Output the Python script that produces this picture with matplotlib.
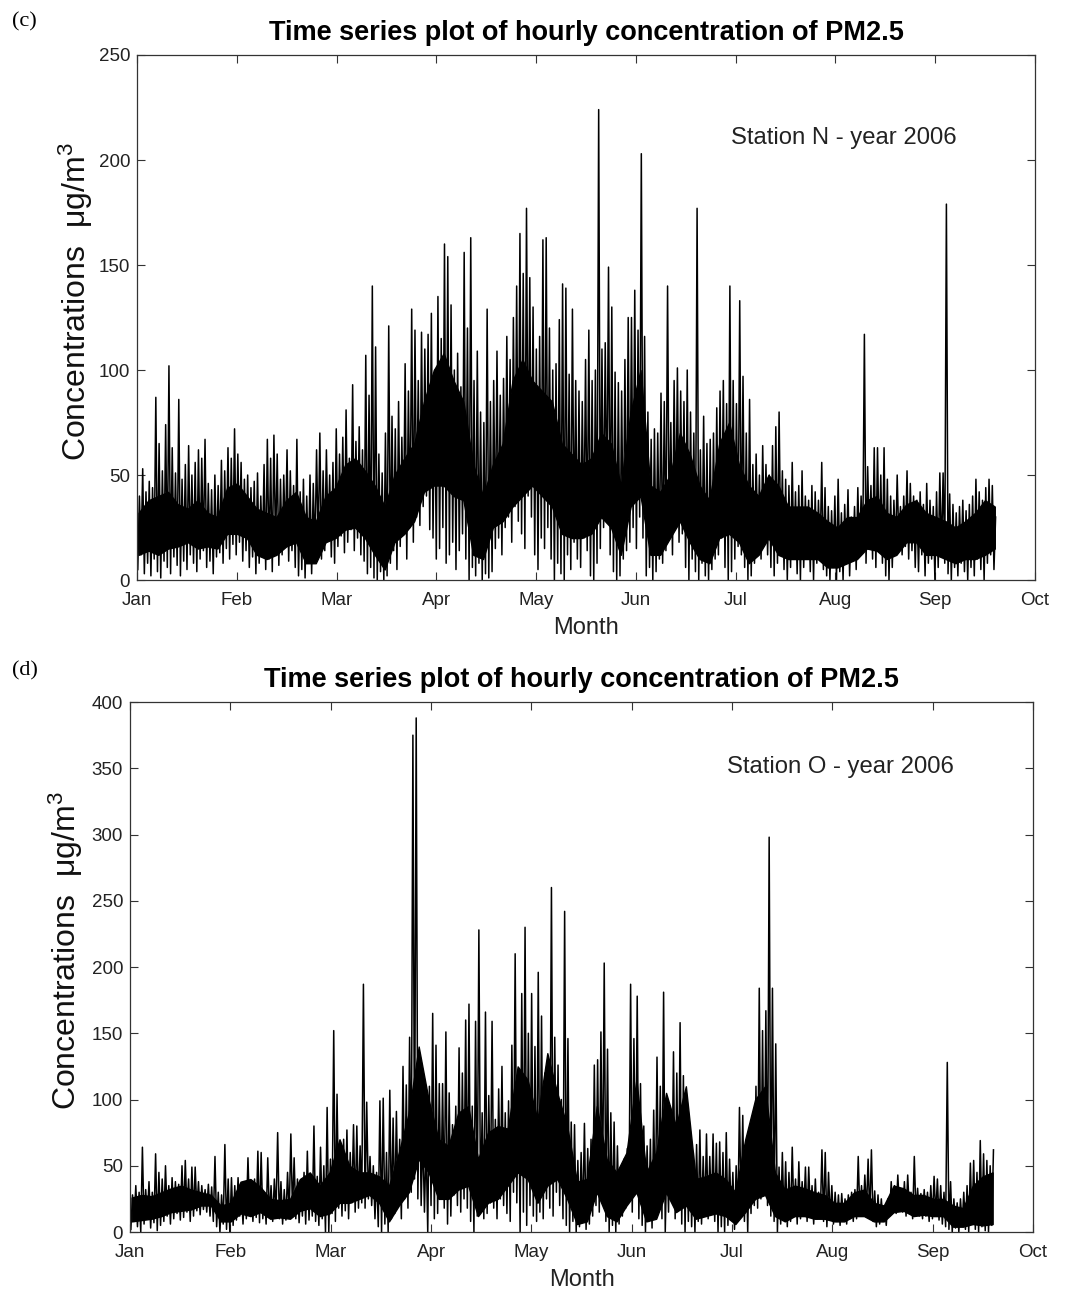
import numpy as np
import matplotlib
matplotlib.use("Agg")
import matplotlib.pyplot as plt

plt.rcParams['font.family'] = ['Liberation Sans', 'DejaVu Sans']
plt.rcParams['mathtext.fontset'] = 'custom'
plt.rcParams['mathtext.rm'] = 'Liberation Sans'
plt.rcParams['mathtext.it'] = 'Liberation Sans:italic'

months = ['Jan', 'Feb', 'Mar', 'Apr', 'May', 'Jun', 'Jul', 'Aug', 'Sep', 'Oct']
month_len = 730 / 24.0   # hourly index, one tick every 730 h

# ---- station N : daily max / min (ug/m3), day 0 = 1 Jan
n_max = [40, 53, 42, 47, 44, 87, 65, 52, 74, 102,
         63, 51, 86, 48, 55, 64, 50, 56, 62, 58,
         67, 46, 43, 50, 45, 57, 52, 63, 58, 72,
         60, 56, 48, 50, 44, 47, 51, 40, 55, 67,
         58, 69, 60, 48, 50, 62, 52, 45, 67, 42,
         48, 40, 50, 46, 62, 70, 52, 62, 50, 56,
         72, 60, 68, 81, 58, 93, 66, 73, 62, 107,
         88, 140, 111, 60, 51, 70, 121, 78, 72, 85,
         68, 103, 90, 129, 119, 95, 118, 110, 117, 127,
         100, 135, 115, 160, 154, 131, 100, 108, 92, 156,
         120, 163, 95, 109, 80, 75, 129, 85, 95, 109,
         88, 96, 116, 105, 125, 140, 165, 146, 177, 144,
         130, 110, 116, 162, 163, 120, 100, 103, 124, 141,
         139, 98, 129, 95, 90, 85, 105, 119, 95, 100,
         224, 110, 113, 149, 130, 99, 94, 90, 105, 125,
         125, 138, 119, 203, 116, 80, 67, 72, 70, 89,
         85, 140, 75, 95, 101, 90, 85, 100, 80, 70,
         177, 62, 78, 65, 67, 70, 82, 90, 95, 84,
         140, 95, 84, 133, 97, 70, 86, 55, 60, 50,
         64, 55, 50, 64, 73, 80, 52, 48, 45, 56,
         42, 45, 52, 40, 38, 45, 42, 38, 56, 44,
         35, 33, 40, 48, 32, 36, 43, 30, 35, 44,
         40, 117, 54, 45, 63, 63, 50, 63, 48, 40,
         38, 50, 35, 40, 52, 46, 40, 38, 42, 36,
         46, 38, 35, 42, 51, 51, 179, 41, 36, 32,
         35, 38, 33, 36, 40, 48, 42, 38, 44, 48, 45, 30]
n_min = [5, 12, 3, 8, 2, 10, 4, 1, 9, 6,
         3, 11, 7, 2, 9, 5, 12, 8, 4, 10,
         14, 6, 9, 3, 11, 13, 8, 15, 10, 17,
         12, 18, 9, 14, 6, 11, 3, 8, 13, 5,
         10, 4, 15, 7, 12, 18, 9, 14, 6, 2,
         5, 1, 8, 3, 12, 16, 10, 14, 20, 11,
         8, 16, 21, 13, 18, 24, 14, 20, 12, 9,
         3, 6, 1, 0, 4, 0, 2, 8, 14, 5,
         16, 22, 10, 25, 18, 30, 26, 35, 40, 24,
         20, 10, 15, 25, 8, 12, 18, 5, 14, 22,
         10, 0, 6, 2, 8, 0, 3, 1, 4, 15,
         20, 12, 25, 30, 18, 35, 28, 22, 15, 40,
         30, 12, 5, 20, 15, 25, 10, 0, 8, 3,
         0, 12, 5, 18, 10, 6, 20, 14, 2, 0,
         8, 15, 25, 30, 12, 4, 0, 2, 10, 14,
         18, 25, 15, 30, 20, 2, 6, 0, 4, 10,
         8, 14, 20, 12, 25, 18, 22, 6, 0, 10,
         4, 0, 8, 2, 0, 5, 10, 12, 20, 6,
         0, 4, 10, 16, 12, 6, 0, 2, 8, 14,
         10, 18, 12, 6, 2, 8, 14, 5, 0, 6,
         10, 3, 0, 6, 12, 4, 0, 8, 12, 5,
         2, 0, 6, 0, 4, 0, 8, 2, 10, 5,
         12, 15, 8, 20, 10, 6, 14, 8, 2, 0,
         6, 14, 18, 12, 16, 10, 14, 6, 4, 12,
         2, 8, 10, 0, 6, 12, 8, 3, 0, 6,
         2, 8, 4, 0, 6, 2, 10, 5, 0, 8, 12, 5]
# dense band of the hourly trace, one value every 3 days
n_core_hi = [32, 38, 40, 42, 36, 34, 38, 32, 30, 44,
             46, 40, 34, 32, 30, 38, 42, 30, 28, 40,
             44, 55, 58, 52, 45, 35, 50, 58, 65, 85,
             100, 108, 95, 85, 55, 40, 55, 65, 95, 105,
             95, 90, 85, 65, 60, 55, 58, 70, 65, 45,
             80, 100, 45, 42, 50, 70, 60, 45, 38, 65,
             75, 55, 45, 40, 50, 45, 35, 35, 35, 32,
             28, 25, 30, 30, 38, 40, 32, 30, 36, 38,
             32, 30, 28, 25, 28, 32, 38, 35]
n_core_lo = [12, 14, 12, 15, 16, 18, 15, 16, 15, 22,
             22, 20, 12, 10, 12, 16, 18, 8, 8, 18,
             20, 24, 25, 20, 12, 5, 18, 22, 28, 42,
             45, 45, 40, 38, 12, 10, 25, 28, 35, 40,
             45, 40, 35, 22, 20, 20, 22, 30, 25, 12,
             35, 40, 12, 12, 20, 28, 18, 10, 8, 20,
             22, 18, 8, 12, 20, 12, 10, 10, 10, 10,
             6, 6, 8, 10, 15, 14, 10, 12, 18, 18,
             12, 12, 10, 8, 10, 10, 12, 15]

# ---- station O
o_max = [28, 35, 30, 64, 32, 38, 30, 59, 45, 40,
         50, 35, 41, 38, 36, 50, 54, 40, 49, 49,
         38, 35, 32, 36, 34, 57, 30, 28, 66, 40,
         41, 35, 41, 30, 38, 56, 32, 40, 61, 60,
         30, 56, 35, 40, 75, 38, 32, 45, 74, 56,
         40, 35, 45, 61, 38, 80, 42, 64, 50, 94,
         55, 152, 104, 61, 70, 77, 60, 81, 80, 65,
         187, 98, 57, 50, 45, 99, 101, 60, 107, 86,
         91, 70, 125, 111, 147, 375, 388, 120, 74, 68,
         110, 165, 141, 112, 112, 151, 105, 81, 95, 139,
         120, 160, 172, 95, 159, 228, 90, 166, 103, 159,
         85, 108, 125, 90, 99, 141, 210, 120, 180, 230,
         150, 180, 140, 196, 163, 120, 110, 260, 147, 126,
         100, 242, 146, 83, 81, 54, 60, 82, 63, 70,
         126, 130, 151, 203, 138, 90, 83, 65, 49, 55,
         63, 187, 146, 178, 112, 80, 65, 70, 92, 132,
         110, 181, 60, 95, 136, 120, 158, 118, 79, 70,
         60, 66, 77, 57, 74, 57, 74, 67, 68, 60,
         75, 55, 45, 50, 94, 88, 62, 70, 85, 110,
         184, 152, 167, 298, 184, 142, 49, 60, 53, 45,
         64, 40, 53, 38, 49, 49, 35, 40, 30, 62,
         60, 45, 35, 30, 28, 29, 25, 28, 30, 32,
         57, 35, 43, 55, 62, 31, 28, 25, 20, 25,
         38, 35, 43, 32, 38, 43, 30, 57, 33, 29,
         32, 30, 35, 42, 40, 35, 30, 128, 38, 25,
         22, 25, 30, 35, 52, 54, 45, 69, 59, 54, 50, 62]
o_min = [2, 8, 4, 0, 6, 10, 3, 7, 1, 5,
         8, 12, 6, 10, 14, 9, 11, 15, 8, 12,
         16, 13, 17, 15, 12, 8, 4, 0, 6, 2,
         0, 5, 9, 12, 6, 10, 14, 8, 11, 7,
         10, 6, 12, 8, 14, 10, 6, 9, 12, 15,
         10, 7, 12, 6, 9, 12, 8, 5, 10, 0,
         0, 14, 8, 18, 12, 16, 10, 22, 15, 18,
         22, 18, 25, 20, 10, 4, 0, 6, 0, 10,
         14, 20, 10, 25, 18, 30, 40, 25, 20, 15,
         0, 20, 10, 14, 25, 18, 6, 12, 28, 20,
         15, 25, 18, 8, 0, 12, 20, 10, 14, 22,
         18, 10, 25, 20, 14, 8, 30, 22, 0, 15,
         5, 20, 12, 8, 15, 10, 25, 18, 12, 30,
         20, 10, 5, 0, 8, 0, 4, 10, 2, 6,
         12, 20, 15, 25, 8, 0, 5, 0, 6, 12,
         18, 25, 15, 30, 10, 5, 0, 8, 3, 12,
         20, 10, 0, 15, 25, 10, 18, 6, 0, 8,
         4, 0, 8, 6, 12, 10, 14, 8, 0, 4,
         0, 5, 10, 2, 12, 18, 8, 0, 14, 20,
         18, 25, 30, 20, 12, 8, 0, 6, 10, 4,
         8, 12, 6, 10, 14, 8, 12, 6, 10, 12,
         8, 4, 10, 6, 8, 5, 9, 6, 10, 8,
         10, 14, 12, 16, 10, 8, 4, 6, 8, 5,
         12, 16, 14, 18, 15, 12, 16, 10, 14, 12,
         10, 12, 8, 10, 12, 9, 6, 4, 2, 0,
         3, 0, 5, 2, 0, 6, 2, 0, 4, 1, 0, 5]
o_core_hi = [26, 28, 27, 30, 33, 35, 32, 30, 28, 20,
             22, 38, 40, 34, 25, 24, 25, 40, 45, 35,
             45, 70, 50, 45, 45, 42, 35, 60, 90, 140,
             100, 70, 65, 90, 95, 55, 75, 80, 78, 125,
             115, 85, 135, 105, 80, 38, 40, 95, 55, 45,
             60, 115, 45, 60, 105, 80, 110, 40, 42, 45,
             40, 30, 70, 100, 110, 45, 32, 35, 33, 30,
             28, 22, 22, 30, 32, 22, 20, 35, 33, 28,
             28, 25, 25, 20, 18, 35, 42, 45]
o_core_lo = [8, 9, 10, 12, 15, 16, 17, 20, 20, 8,
             8, 14, 12, 15, 10, 11, 10, 16, 18, 12,
             14, 22, 22, 25, 28, 22, 8, 20, 30, 55,
             45, 25, 25, 32, 35, 12, 22, 25, 35, 45,
             40, 22, 35, 40, 25, 6, 8, 30, 12, 8,
             20, 30, 8, 10, 30, 15, 20, 10, 12, 14,
             12, 6, 15, 25, 28, 12, 8, 12, 12, 10,
             10, 8, 8, 12, 12, 8, 8, 15, 16, 12,
             13, 12, 12, 4, 4, 6, 5, 6]


def draw_panel(ax, dmax, dmin, core_hi, core_lo, ymax, station, st_y, lab_x):
    days = np.arange(len(dmax))
    # zigzag through the daily low and high
    x = np.empty(2 * len(days))
    y = np.empty(2 * len(days))
    x[0::2] = days + 0.25
    x[1::2] = days + 0.75
    y[0::2] = dmin
    y[1::2] = dmax
    cd = np.arange(len(core_hi)) * 3 + 0.5
    ax.fill_between(cd, core_lo, core_hi, color='black', lw=1.0)
    ax.plot(x, y, color='black', lw=1.1)

    ax.set_xlim(0, 9 * month_len)
    ax.set_ylim(0, ymax)
    ax.set_xticks(np.arange(10) * month_len)
    ax.set_xticklabels(months)
    ax.set_yticks(np.arange(0, ymax + 1, 50))
    ax.tick_params(direction='in', top=True, right=True, length=6, width=0.8,
                   labelsize=13.5, labelcolor='#222222', color='#333333', pad=5)
    ax.tick_params(axis='x', pad=8.5)
    for s in ax.spines.values():
        s.set_color('#333333')
        s.set_linewidth(0.9)

    ax.set_title('Time series plot of hourly concentration of PM2.5',
                 fontsize=19.5, fontweight='bold', pad=11)
    ax.set_xlabel('Month', fontsize=17, color='#222222')
    ax.xaxis.set_label_coords(0.5, -0.07)
    ax.set_ylabel('Concentrations  \u03bcg/m$^{3}$', fontsize=23, color='#111111')
    ax.yaxis.set_label_coords(lab_x, 0.53)
    ax.text(0.661, st_y, station, transform=ax.transAxes, fontsize=17.2,
            ha='left', va='center', color='#222222')


fig = plt.figure(figsize=(10.65, 12.91), dpi=100)
ax1 = fig.add_axes([0.1286, 0.5507, 0.8432, 0.4067])
ax2 = fig.add_axes([0.1221, 0.0457, 0.8479, 0.4105])

draw_panel(ax1, n_max, n_min, n_core_hi, n_core_lo, 250, 'Station N - year 2006', 0.842, -0.047)
draw_panel(ax2, o_max, o_min, o_core_hi, o_core_lo, 400, 'Station O - year 2006', 0.877, -0.050)

fig.text(0.023, 1 - 22 / 1291, '(c)', family='Liberation Serif', fontsize=16,
         ha='center', va='center')
fig.text(0.023, 1 - 671 / 1291, '(d)', family='Liberation Serif', fontsize=16,
         ha='center', va='center')

fig.savefig('out.png', dpi=100)
